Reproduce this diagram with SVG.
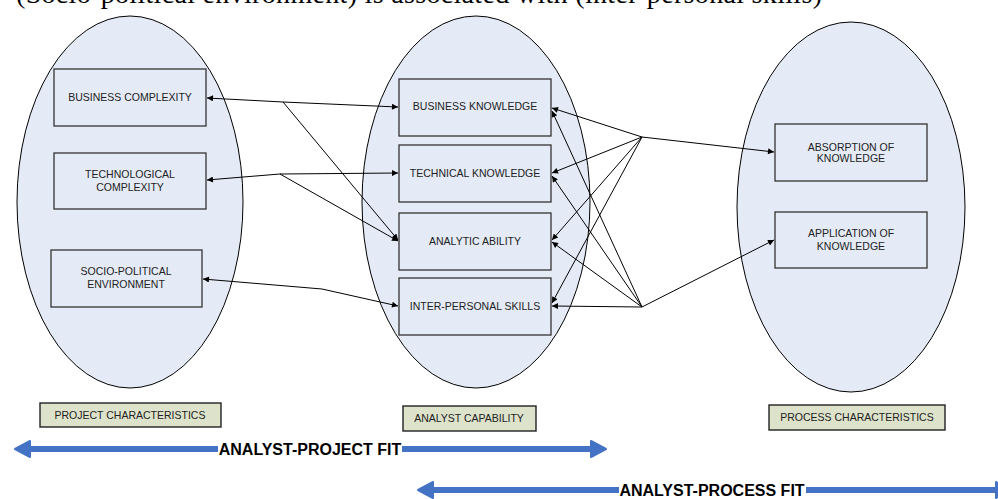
<svg xmlns="http://www.w3.org/2000/svg" width="998" height="499" viewBox="0 0 998 499">
<style>
.ell{fill:#e5ebf6;stroke:#000;stroke-width:1}
.box{fill:#e5ebf6;stroke:#333;stroke-width:1.3}
.lbl{fill:#dde2cb;stroke:#222;stroke-width:1.4}
.t{font-family:"Liberation Sans",Arial,sans-serif;font-size:10.5px;fill:#222;text-anchor:middle}
.fit{font-family:"Liberation Sans",Arial,sans-serif;font-size:16px;font-weight:bold;fill:#000;text-anchor:middle}
.c line{stroke:#000;stroke-width:1;marker-end:url(#ah)}
.blue{stroke:#4472c4;stroke-width:6;fill:none}
.bh{fill:#4472c4;stroke:#4472c4;stroke-width:2;stroke-linejoin:round}
</style>
<defs>
<marker id="ah" viewBox="0 0 10 10" refX="10" refY="5" markerWidth="9" markerHeight="6" markerUnits="userSpaceOnUse" orient="auto"><path d="M0,0 L10,5 L0,10 z" fill="#000"/></marker>
</defs>
<rect width="998" height="499" fill="#fff"/>
<text x="16" y="3" font-family="'Liberation Serif',serif" font-size="28" textLength="806" fill="#000">(Socio-political environment) is associated with (inter-personal skills)</text>

<g id="project-ellipse"><ellipse class="ell" cx="130" cy="202" rx="113" ry="186"/></g>
<g id="analyst-ellipse"><ellipse class="ell" cx="476" cy="202" rx="114" ry="186"/></g>
<g id="process-ellipse"><ellipse class="ell" cx="851" cy="207" rx="114" ry="185"/></g>

<g id="business-complexity"><rect class="box" x="54" y="69" width="152" height="57"/><text class="t" x="130" y="101">BUSINESS COMPLEXITY</text></g>
<g id="technological-complexity"><rect class="box" x="54" y="153" width="152" height="56"/><text class="t" x="130" y="178">TECHNOLOGICAL</text><text class="t" x="130" y="191">COMPLEXITY</text></g>
<g id="socio-political"><rect class="box" x="51" y="250" width="151" height="57"/><text class="t" x="126" y="275">SOCIO-POLITICAL</text><text class="t" x="126" y="288">ENVIRONMENT</text></g>

<g id="business-knowledge"><rect class="box" x="399" y="79" width="152" height="57"/><text class="t" x="475" y="110">BUSINESS KNOWLEDGE</text></g>
<g id="technical-knowledge"><rect class="box" x="399" y="145" width="152" height="57"/><text class="t" x="475" y="177">TECHNICAL KNOWLEDGE</text></g>
<g id="analytic-ability"><rect class="box" x="399" y="213" width="152" height="57"/><text class="t" x="475" y="245">ANALYTIC ABILITY</text></g>
<g id="inter-personal-skills"><rect class="box" x="399" y="278" width="152" height="57"/><text class="t" x="475" y="310">INTER-PERSONAL SKILLS</text></g>

<g id="absorption"><rect class="box" x="775" y="124" width="152" height="57"/><text class="t" x="851" y="151">ABSORPTION OF</text><text class="t" x="851" y="162">KNOWLEDGE</text></g>
<g id="application"><rect class="box" x="775" y="212" width="152" height="56"/><text class="t" x="851" y="237">APPLICATION OF</text><text class="t" x="851" y="250">KNOWLEDGE</text></g>

<g id="connectors" class="c">
<line x1="283" y1="102" x2="207" y2="98"/>
<line x1="283" y1="102" x2="398" y2="107"/>
<line x1="283" y1="102" x2="398" y2="240"/>
<line x1="280" y1="174" x2="207" y2="180"/>
<line x1="280" y1="174" x2="398" y2="173"/>
<line x1="280" y1="174" x2="398" y2="241"/>
<line x1="322" y1="289" x2="203" y2="279"/>
<line x1="322" y1="289" x2="398" y2="306"/>
<line x1="642" y1="137" x2="552" y2="108"/>
<line x1="642" y1="137" x2="552" y2="173"/>
<line x1="642" y1="137" x2="552" y2="240"/>
<line x1="642" y1="137" x2="552" y2="303"/>
<line x1="642" y1="137" x2="774" y2="152"/>
<line x1="642" y1="307" x2="552" y2="306"/>
<line x1="642" y1="307" x2="552" y2="242"/>
<line x1="642" y1="307" x2="552" y2="176"/>
<line x1="642" y1="307" x2="552" y2="111"/>
<line x1="642" y1="307" x2="774" y2="240"/>
</g>

<g id="label-project"><rect class="lbl" x="40" y="403" width="181" height="24"/><text class="t" x="130" y="419">PROJECT CHARACTERISTICS</text></g>
<g id="label-analyst"><rect class="lbl" x="403" y="406" width="133" height="25"/><text class="t" x="469" y="422">ANALYST CAPABILITY</text></g>
<g id="label-process"><rect class="lbl" x="769" y="405" width="176" height="25"/><text class="t" x="857" y="421">PROCESS CHARACTERISTICS</text></g>

<g id="analyst-project-fit">
<line class="blue" x1="28" y1="449" x2="593" y2="449"/>
<polygon class="bh" points="15,449 30,441 30,457"/>
<polygon class="bh" points="606,449 591,441 591,457"/>
<rect x="218" y="439" width="184" height="20" fill="#fff"/>
<text class="fit" x="310" y="455">ANALYST-PROJECT FIT</text>
</g>
<g id="analyst-process-fit">
<line class="blue" x1="431" y1="490" x2="1000" y2="490"/>
<polygon class="bh" points="418,490 433,482 433,498"/>
<polygon class="bh" points="1011,490 996,482 996,498"/>
<rect x="619" y="480" width="187" height="19" fill="#fff"/>
<text class="fit" x="712" y="496">ANALYST-PROCESS FIT</text>
</g>
</svg>
